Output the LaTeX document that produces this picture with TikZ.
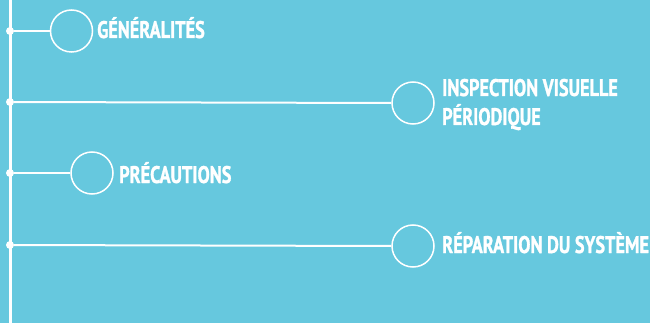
\documentclass[tikz,border=0pt]{standalone}
\usepackage{fontspec}
\setmainfont[FakeStretch=0.76,FakeBold=1.2]{PT Sans Bold}
\definecolor{bg}{RGB}{102,200,222}
\tikzset{
  dot/.style={circle,fill=white,inner sep=0pt,minimum size=8pt},
  ring/.style={circle,draw=white,line width=1.5pt,inner sep=0pt,minimum size=42pt},
  link/.style={white,line width=2pt},
  label/.style={anchor=base west,inner sep=0pt,text=white,align=left,font=\fontsize{24}{29}\selectfont}
}
\begin{document}
\begin{tikzpicture}[x=1pt,y=-1pt]
\fill[bg] (0,0) rectangle (650,323);
\useasboundingbox (0,0) rectangle (650,323);
\coordinate (top) at (10,0);
\coordinate (bot) at (10,323);
\draw[white,line width=3pt] (top) -- (bot);
\node[dot] (d1) at (10,31) {};
\node[dot] (d2) at (10,102) {};
\node[dot] (d3) at (10,173) {};
\node[dot] (d4) at (10,245) {};
\node[ring] (c1) at (71.5,31) {};
\node[ring] (c2) at (413,103) {};
\node[ring] (c3) at (92,173) {};
\node[ring] (c4) at (413,246) {};
\draw[link] (d1) -- (c1.west);
\draw[link] (d2) -- (c2.west);
\draw[link] (d3) -- (c3.west);
\draw[link] (d4) -- (c4.west);
\node[label] (t1) at (97,38) {GÉNÉRALITÉS};
\node[label] (t2) at (442,125) {INSPECTION VISUELLE\\PÉRIODIQUE};
\node[label] (t3) at (119,183) {PRÉCAUTIONS};
\node[label] (t4) at (442,253) {RÉPARATION DU SYSTÈME};
\end{tikzpicture}
\end{document}
